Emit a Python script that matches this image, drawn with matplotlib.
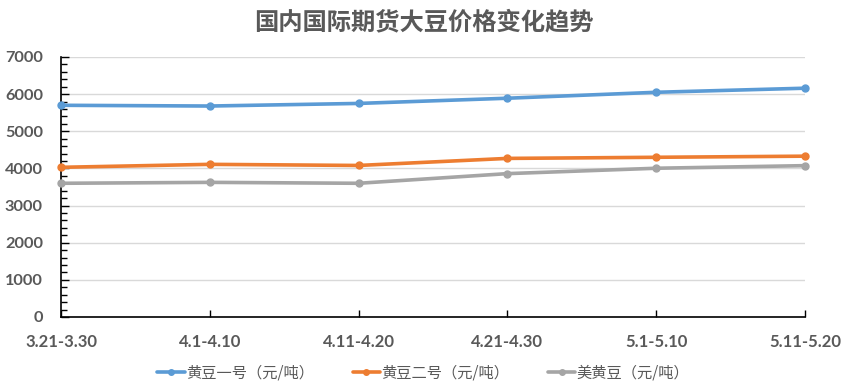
import matplotlib
matplotlib.use("Agg")
import matplotlib.pyplot as plt
from matplotlib.ticker import MultipleLocator

plt.rcParams['font.family'] = ['Lato', 'Noto Sans CJK SC', 'DejaVu Sans']

categories = ["3.21-3.30", "4.1-4.10", "4.11-4.20", "4.21-4.30", "5.1-5.10", "5.11-5.20"]
series_names = ["黄豆一号（元/吨）", "黄豆二号（元/吨）", "美黄豆（元/吨）"]
soy1 = [5700, 5680, 5750, 5890, 6050, 6160]
soy2 = [4030, 4110, 4080, 4270, 4300, 4330]
us_soy = [3600, 3625, 3600, 3860, 4005, 4075]
yticks = [0, 1000, 2000, 3000, 4000, 5000, 6000, 7000]

colors = ["#5B9BD5", "#ED7D31", "#A5A5A5"]

fig = plt.figure(figsize=(8.47, 3.92), dpi=100)
ax = fig.add_axes([61/847, 1 - 317/392, (805 - 61)/847, (317 - 57)/392])

x = list(range(len(categories)))
for vals, name, c in zip([soy1, soy2, us_soy], series_names, colors):
    ax.plot(x, vals, color=c, lw=2.6, marker='o', ms=5, label=name,
            solid_capstyle='round', zorder=3, clip_on=False)

ax.set_xlim(0, len(categories) - 1)
ax.set_ylim(0, 7000)
ax.set_yticks(yticks)
ax.yaxis.set_minor_locator(MultipleLocator(200))
ax.set_xticks(x)
ax.set_xticklabels(categories)
ax.grid(axis='y', color='#D9D9D9', lw=1, zorder=0)

for s in ['top', 'right']:
    ax.spines[s].set_visible(False)
for s in ['left', 'bottom']:
    ax.spines[s].set_color('black')
    ax.spines[s].set_linewidth(1.2)

ax.tick_params(axis='y', which='major', direction='in', length=6, width=1,
               labelsize=11.8, labelcolor='#595959', pad=13)
ax.tick_params(axis='y', which='minor', direction='in', length=4, width=1)
ax.tick_params(axis='x', which='major', direction='in', length=5, width=1,
               labelsize=12, labelcolor='#595959', pad=12)
for lab in ax.get_xticklabels() + ax.get_yticklabels():
    lab.set_fontweight('bold')

fig.text(0.5, 0.944, "国内国际期货大豆价格变化趋势", ha='center', va='center',
         fontsize=17.5, color='#595959', family=['Noto Sans CJK SC'], fontweight='bold')

leg = fig.legend(loc='center', bbox_to_anchor=(0.5, 0.048), ncol=3, frameon=False,
                 prop={'family': ['Noto Sans CJK SC'], 'size': 11},
                 handlelength=1.8, columnspacing=2.5, handletextpad=0.1)
for t in leg.get_texts():
    t.set_color('#595959')
for h in leg.legend_handles:
    h.set_linewidth(2.6)
    h.set_markersize(4)

fig.savefig("out.png", dpi=100)
